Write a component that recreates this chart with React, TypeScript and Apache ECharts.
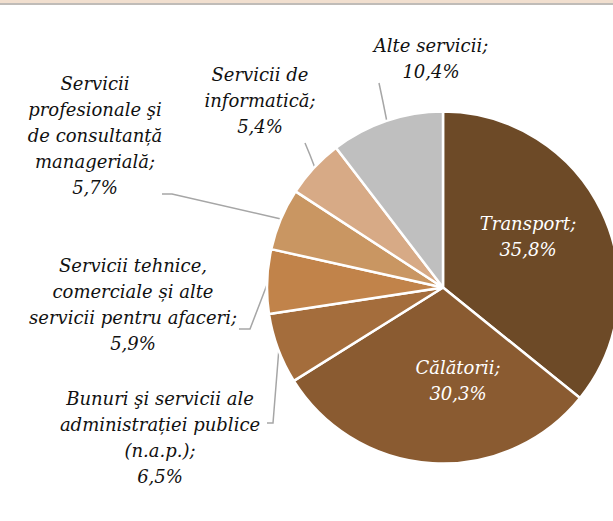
import React, { useEffect, useRef } from "react";
import * as echarts from "echarts";

const categories = [
  "Transport",
  "Călătorii",
  "Bunuri şi servicii ale administrației publice (n.a.p.)",
  "Servicii tehnice, comerciale și alte servicii pentru afaceri",
  "Servicii profesionale şi de consultanță managerială",
  "Servicii de informatică",
  "Alte servicii",
];
const values = [35.8, 30.3, 6.5, 5.9, 5.7, 5.4, 10.4];
const labelNames = [
  "Transport;",
  "Călătorii;",
  "Bunuri şi servicii ale\nadministrației publice\n(n.a.p.);",
  "Servicii tehnice,\ncomerciale și alte\nservicii pentru afaceri;",
  "Servicii\nprofesionale şi\nde consultanță\nmanagerială;",
  "Servicii de\ninformatică;",
  "Alte servicii;",
];
const colors = ["#6d4a27", "#8a5b31", "#a46d3c", "#c1834a", "#c99662", "#d7aa86", "#bfbfbf"];

export default function App() {
  const ref = useRef<HTMLDivElement>(null);
  useEffect(() => {
    document.body.style.margin = "0";
    if (!ref.current) return;
    const chart = echarts.init(ref.current, undefined, { renderer: "svg" });
    const font = "'DejaVu Serif', serif";
    const labelPos: Array<{ x: number; y: number; pts?: number[][] }> = [
      { x: 528, y: 236 },
      { x: 458, y: 380 },
      { x: 160, y: 437, pts: [[279, 348], [273, 423], [267, 423]] },
      { x: 133, y: 304, pts: [[268, 282], [250, 329], [239, 329]] },
      { x: 95, y: 135, pts: [[281, 219], [172, 194], [162, 194]] },
      { x: 260, y: 100, pts: [[315, 168], [310, 155], [305, 143]] },
      { x: 431, y: 58, pts: [[387, 122], [383, 102], [379, 83]] },
    ];
    chart.setOption({
      animation: false,
      backgroundColor: "#ffffff",
      graphic: [
        { type: "rect", shape: { x: 0, y: 0, width: 613, height: 3 }, style: { fill: "#f1dfcf" } },
        { type: "rect", shape: { x: 0, y: 3, width: 613, height: 2 }, style: { fill: "#c0bcb8" } },
      ],
      series: [
        {
          type: "pie",
          center: [443, 287.5],
          radius: 176,
          startAngle: 90,
          clockwise: true,
          avoidLabelOverlap: false,
          itemStyle: { borderColor: "#ffffff", borderWidth: 2.5 },
          label: {
            show: true,
            position: "outside",
            fontFamily: font,
            fontStyle: "italic",
            fontSize: 18,
            lineHeight: 26,
            color: "#111111",
            align: "center",
            formatter: (p: any) =>
              labelNames[p.dataIndex] + "\n" + Number(p.value).toFixed(1).replace(".", ",") + "%",
          },
          labelLine: { show: true, lineStyle: { color: "#a6a6a6", width: 1.5 } },
          labelLayout: (p: any) => {
            const lp = labelPos[p.dataIndex];
            const r: any = { x: lp.x, y: lp.y, align: "center", verticalAlign: "middle" };
            if (lp.pts) r.labelLinePoints = lp.pts;
            return r;
          },
          data: categories.map((name, i) => ({
            name,
            value: values[i],
            itemStyle: { color: colors[i] },
            label: i < 2 ? { color: "#ffffff" } : undefined,
            labelLine: i < 2 ? { show: false } : undefined,
          })),
        },
      ],
    });
    return () => chart.dispose();
  }, []);
  return <div ref={ref} style={{ width: 613, height: 521 }} />;
}
